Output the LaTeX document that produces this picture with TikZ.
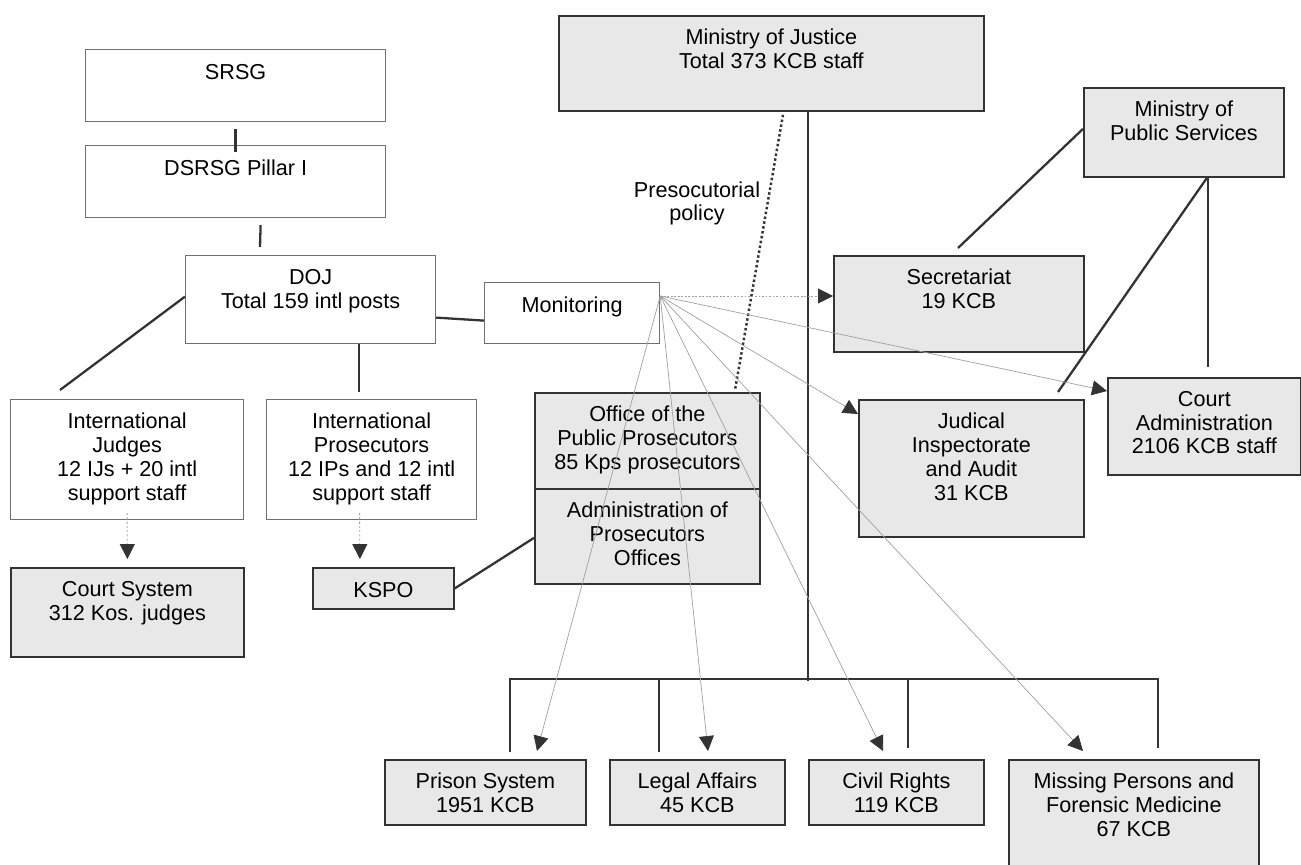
\documentclass[tikz,border=0pt]{standalone}
\usepackage{fontspec}
\setmainfont{Liberation Sans}
\usetikzlibrary{arrows.meta,calc}

\definecolor{boxgray}{HTML}{E8E8E8}
\definecolor{linedark}{HTML}{333333}
\definecolor{framegray}{HTML}{707070}
\definecolor{monline}{HTML}{A0A0A0}

\tikzset{
  whitebox/.style={draw=framegray, line width=0.7pt, fill=white, inner sep=0pt},
  graybox/.style={draw=linedark, line width=1pt, fill=boxgray, inner sep=0pt},
  boxtext/.style={anchor=north, inner sep=0pt, align=center,
    font=\fontsize{12.3}{13.6}\selectfont, execute at begin node=\strut},
  link/.style={draw=linedark, line width=1.3pt},
  policy/.style={draw=linedark, line width=1.4pt, dash pattern=on 1.4pt off 1.4pt},
  headtip/.style={-{Triangle[length=8.5pt,width=8.5pt,color=linedark]}},
  monlink/.style={draw=monline, line width=0.4pt, headtip},
  mondot/.style={monlink, dash pattern=on 1pt off 1pt},
  staffdrop/.style={draw=monline, line width=0.5pt, dash pattern=on 1.2pt off 1.2pt, headtip},
}

% #1 style, #2 name, #3/#4 top-left, #5/#6 bottom-right, #7 text
\newcommand{\orgbox}[7]{%
  \node[#1, anchor=north west, minimum width={(#5-#3)*0.02cm},
        minimum height={(#6-#4)*0.02cm}] (#2) at (#3,#4) {};
  \node[boxtext] (#2-t) at ($(#2.north)+(0,13.7)$) {#7};}

\begin{document}
\begin{tikzpicture}[x=0.02cm, y=-0.02cm]
\useasboundingbox (0,0) rectangle (1301,865);

% UN side
\orgbox{whitebox}{srsg}{85}{49}{385}{121}{SRSG}
\orgbox{whitebox}{dsrsg}{85}{145}{385}{217}{DSRSG Pillar I}
\orgbox{whitebox}{doj}{185}{255}{435}{343}{DOJ\\Total 159 intl posts}
\orgbox{whitebox}{mon}{484}{282}{659}{343}{Monitoring}
\orgbox{whitebox}{ij}{10}{399}{243}{519}{International\\Judges\\12 IJs + 20 intl\\support staff}
\orgbox{whitebox}{ip}{266}{399}{476}{519}{International\\Prosecutors\\12 IPs and 12 intl\\support staff}
\orgbox{graybox}{court}{10}{567}{243}{656}{Court System\\312 Kos. judges}
\orgbox{graybox}{kspo}{312}{567}{453}{608}{KSPO}

% Prosecution offices
\orgbox{graybox}{office}{534}{392}{759}{488}{Office of the\\Public Prosecutors\\85 Kps prosecutors}
\orgbox{graybox}{admin}{534}{488}{759}{583}{Administration of\\Prosecutors\\Offices}

% Ministries
\orgbox{graybox}{moj}{558}{15}{983}{110}{Ministry of Justice\\Total 373 KCB staff}
\orgbox{graybox}{mps}{1083}{87}{1283}{176}{Ministry of\\Public Services}
\orgbox{graybox}{secr}{833}{255}{1083}{351}{Secretariat\\19 KCB}
\orgbox{graybox}{jud}{858}{399}{1083}{536}{Judical\\Inspectorate\\and Audit\\31 KCB}
\orgbox{graybox}{cadm}{1107}{377}{1300}{474}{Court\\Administration\\2106 KCB staff}

% Ministry of Justice departments
\orgbox{graybox}{prison}{384}{759}{585}{824}{Prison System\\1951 KCB}
\orgbox{graybox}{legal}{609}{759}{784}{824}{Legal Affairs\\45 KCB}
\orgbox{graybox}{civil}{808}{759}{983}{824}{Civil Rights\\119 KCB}
\orgbox{graybox}{missing}{1008}{759}{1258}{872}{Missing Persons and\\Forensic Medicine\\67 KCB}

\node[boxtext] (policy-t) at (697,181) {Presocutorial\\policy};

% UN reporting lines
\draw[link] ($(srsg.south)+(0,7)$) -- ($(dsrsg.north)+(0,7)$);
\draw[link] ($(dsrsg.south)+(25,7)$) -- ($(doj.north west)+(75,-8)$);
\draw[link] ($(doj.west)+(0,-3)$) -- ($(ij.north west)+(50,-9)$);
\draw[link] ($(doj.south west)+(174,0)$) -- ($(ip.north west)+(93,-7)$);
\draw[link] ($(doj.east)+(0,18)$) -- ($(mon.west)+(0,7.5)$);
\draw[link] (kspo.east) -- ($(admin.west)+(0,1.5)$);

\draw[staffdrop] ($(ij.south)+(0,-7)$) -- ($(court.north)+(0,-8)$);
\draw[staffdrop] ($(ip.south)+(-12,-7)$) -- ($(kspo.north)+(-23.5,-8)$);

% Ministry of Justice tree
\coordinate (spine) at ($(moj.south west)+(250,569)$);
\draw[link] ($(moj.south west)+(250,0)$) -- (spine);
\draw[link] ($(prison.north west)+(126,-7)$) |- ($(missing.north west)+(150,-80)$)
  -- ($(missing.north west)+(150,-11)$);
\draw[link] ($(legal.north west)+(50,-80)$) -- ($(legal.north west)+(50,-7)$);
\draw[link] ($(civil.north west)+(100,-80)$) -- ($(civil.north west)+(100,-11)$);

% Ministry of Public Services lines
\draw[link] ($(mps.west)+(0,-3.5)$) -- ($(secr.north west)+(125,-7)$);
\draw[link] ($(mps.south west)+(124,0)$) -- ($(jud.north west)+(200,-7)$);
\draw[link] ($(mps.south west)+(125,0)$) -- ($(cadm.north west)+(101,-10)$);

% Prosecutorial policy
\draw[policy] ($(moj.south west)+(225,3)$) -- ($(office.north west)+(201,-2)$);

% Monitoring lines
\coordinate (mon-out) at ($(mon.north east)+(0,14)$);
\coordinate (secr-in) at ($(secr.north west)+(0,41)$);
\coordinate (cadm-in) at ($(cadm.north west)+(0,14)$);
\coordinate (jud-in) at ($(jud.north west)+(0,15)$);
\coordinate (prison-in) at ($(prison.north west)+(153,-8)$);
\coordinate (legal-in) at ($(legal.north west)+(99,-8)$);
\coordinate (civil-in) at ($(civil.north west)+(75,-8)$);
\coordinate (missing-in) at ($(missing.north west)+(75,-8)$);

\draw[mondot] (mon-out) -- (secr-in);
\draw[monlink] (mon-out) -- (cadm-in);
\draw[monlink] (mon-out) -- (jud-in);
\draw[monlink] (mon-out) -- (prison-in);
\draw[monlink] (mon-out) -- (legal-in);
\draw[monlink] (mon-out) -- (civil-in);
\draw[monlink] (mon-out) -- (missing-in);
\end{tikzpicture}
\end{document}
